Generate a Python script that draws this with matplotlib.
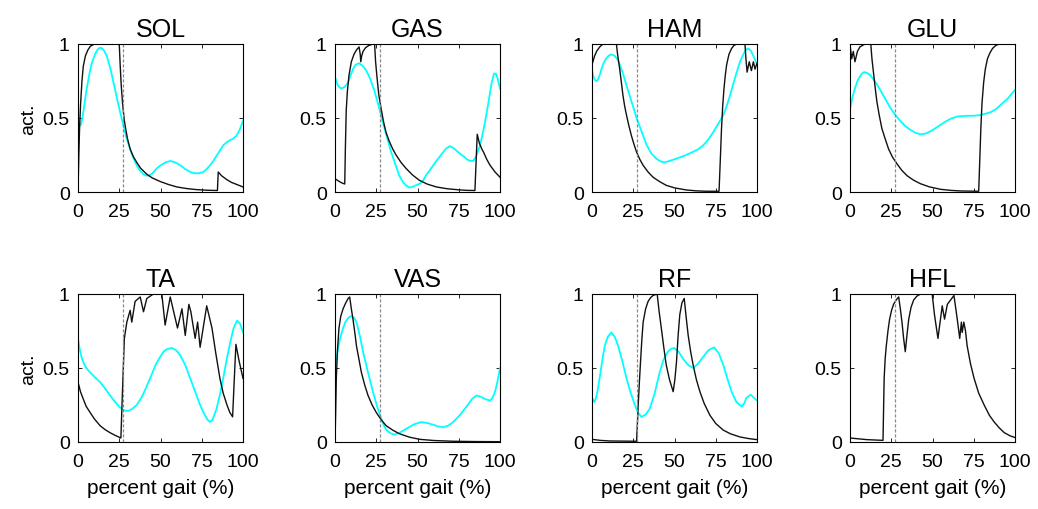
import matplotlib
matplotlib.use("Agg")
import matplotlib.pyplot as plt

plt.rcParams['font.family'] = ['Liberation Sans', 'DejaVu Sans']

# digitised curves: (x % gait, activation); black = simulated, cyan = reference EMG
sol_black_x = [0, 0.5, 1, 1.6, 2.4, 3.2, 4.5, 6, 7.5, 10, 25, 25.6, 26.2, 27, 28, 29, 30, 31.6, 33.5, 35.6, 38, 41.7, 45, 50, 55, 60, 66, 72, 78, 84.5, 85, 87, 90, 93, 96.4, 100]
sol_black_y = [0, 0.25, 0.45, 0.6, 0.75, 0.85, 0.92, 0.96, 0.985, 1, 1, 0.85, 0.72, 0.6, 0.49, 0.42, 0.36, 0.29, 0.24, 0.2, 0.16, 0.12, 0.095, 0.07, 0.05, 0.034, 0.023, 0.016, 0.012, 0.01, 0.135, 0.11, 0.085, 0.065, 0.05, 0.034]
sol_cyan_x = [0, 0.8, 1.6, 2.5, 3.5, 4.5, 5.3, 6.3, 7.3, 8.3, 9.3, 10.5, 11.5, 12.5, 14, 15.5, 17.4, 19.5, 21.5, 23.5, 25.5, 27.5, 29.5, 31.6, 33.5, 35.6, 37.5, 39.7, 41, 42.7, 45, 47.8, 50, 53, 56, 59, 62, 65, 68, 70.5, 73, 76, 78, 80, 82, 84, 86, 88, 90, 92, 94, 96, 98, 100]
sol_cyan_y = [0.5, 0.46, 0.45, 0.49, 0.56, 0.64, 0.70, 0.76, 0.82, 0.87, 0.9, 0.935, 0.955, 0.97, 0.975, 0.96, 0.92, 0.84, 0.74, 0.64, 0.54, 0.45, 0.36, 0.29, 0.23, 0.18, 0.145, 0.12, 0.112, 0.11, 0.125, 0.16, 0.18, 0.2, 0.21, 0.2, 0.18, 0.155, 0.135, 0.127, 0.126, 0.135, 0.155, 0.18, 0.21, 0.245, 0.28, 0.315, 0.335, 0.35, 0.36, 0.38, 0.42, 0.48]

gas_black_x = [0, 2, 4, 5.9, 6.3, 6.8, 7.5, 8.5, 9.9, 11.5, 13, 14.6, 15.3, 15.6, 16.2, 17, 18.5, 20.5, 23, 24, 24.6, 25.5, 26.5, 28, 29.5, 31, 33, 35, 37, 40, 43, 47, 51, 56, 61.5, 68, 75.7, 80, 84.8, 85.5, 86.2, 87.5, 89, 90, 92, 94, 97, 100]
gas_black_y = [0.09, 0.075, 0.062, 0.054, 0.3, 0.55, 0.68, 0.79, 0.88, 0.93, 0.96, 0.98, 0.93, 0.88, 0.92, 0.95, 0.975, 0.99, 1, 1, 0.88, 0.77, 0.66, 0.56, 0.47, 0.4, 0.34, 0.29, 0.25, 0.2, 0.16, 0.115, 0.08, 0.053, 0.034, 0.022, 0.014, 0.011, 0.01, 0.2, 0.39, 0.33, 0.29, 0.27, 0.22, 0.18, 0.135, 0.10]
gas_cyan_x = [0, 1, 1.8, 3, 3.8, 5, 5.8, 7, 7.9, 9.5, 10.9, 12.5, 14.6, 17, 19, 21.5, 24, 26.5, 29, 31.5, 34, 36.5, 39, 41, 43, 45, 47, 49, 51.4, 53.5, 55, 57, 59.5, 62.5, 65.6, 67.5, 69.6, 72, 75.7, 78, 80, 82, 83.8, 85.5, 87.9, 90, 92, 93.5, 95, 96.4, 97.5, 98.5, 100]
gas_cyan_y = [0.78, 0.74, 0.72, 0.705, 0.70, 0.705, 0.71, 0.725, 0.74, 0.79, 0.83, 0.86, 0.87, 0.85, 0.82, 0.76, 0.68, 0.58, 0.47, 0.37, 0.27, 0.19, 0.11, 0.07, 0.045, 0.03, 0.035, 0.045, 0.056, 0.08, 0.11, 0.14, 0.18, 0.225, 0.27, 0.295, 0.31, 0.295, 0.26, 0.24, 0.22, 0.21, 0.21, 0.24, 0.315, 0.42, 0.54, 0.64, 0.74, 0.80, 0.80, 0.77, 0.70]

ham_black_x = [0, 0.8, 1.6, 3, 4.7, 6, 7.7, 14.8, 15.5, 16.8, 17.8, 18.8, 19.8, 20.9, 22.3, 23.9, 25.5, 27, 29, 31, 34, 37, 41, 45, 50, 57, 63, 69.4, 77, 77.7, 78.5, 79.2, 80, 80.8, 81.6, 83, 84.6, 86, 87.7, 92.7, 93.3, 94, 95.3, 96.6, 97.8, 98.8, 100]
ham_black_y = [0.86, 0.89, 0.92, 0.955, 0.98, 0.995, 1, 1, 0.93, 0.83, 0.74, 0.65, 0.58, 0.52, 0.45, 0.38, 0.32, 0.27, 0.22, 0.18, 0.135, 0.10, 0.07, 0.045, 0.028, 0.014, 0.008, 0.005, 0.005, 0.2, 0.43, 0.58, 0.70, 0.79, 0.86, 0.93, 0.97, 0.99, 1, 1, 0.9, 0.81, 0.88, 0.82, 0.88, 0.83, 0.87]
ham_cyan_x = [0, 0.6, 1.2, 2, 2.6, 3.3, 4, 5, 5.7, 7, 8.5, 10, 11.7, 13.8, 15.8, 18.5, 20.9, 24, 27, 30, 33, 36, 39, 41.5, 44, 47, 51, 56, 61, 64.5, 67.4, 70.5, 73.5, 76.5, 79.6, 81.6, 83.6, 85.6, 87.7, 89.7, 91.7, 93.2, 94.7, 96.2, 97.8, 99, 100]
ham_cyan_y = [0.83, 0.79, 0.77, 0.755, 0.75, 0.755, 0.77, 0.80, 0.83, 0.87, 0.90, 0.92, 0.93, 0.92, 0.89, 0.81, 0.72, 0.61, 0.50, 0.41, 0.32, 0.26, 0.225, 0.207, 0.20, 0.21, 0.225, 0.245, 0.27, 0.29, 0.315, 0.355, 0.405, 0.46, 0.52, 0.58, 0.65, 0.73, 0.81, 0.88, 0.93, 0.96, 0.97, 0.955, 0.92, 0.89, 0.86]

glu_black_x = [0, 1, 2, 3, 4.5, 6, 9, 12.6, 13.3, 14.2, 15.2, 16.3, 17.7, 19.3, 21.3, 23.4, 25.8, 28.5, 31.5, 34.6, 38.5, 42.7, 48, 55, 61, 67, 78, 78.6, 79.3, 80, 81, 82, 83.3, 84.8, 86.4, 88.3, 90.4, 100]
glu_black_y = [1, 0.9, 0.95, 0.88, 0.95, 0.98, 1, 1, 0.9, 0.81, 0.71, 0.61, 0.52, 0.43, 0.36, 0.29, 0.235, 0.19, 0.145, 0.11, 0.08, 0.056, 0.035, 0.018, 0.011, 0.007, 0.005, 0.2, 0.43, 0.6, 0.74, 0.83, 0.90, 0.94, 0.97, 0.99, 1, 1]
glu_cyan_x = [0, 1.5, 3, 4.5, 6, 7.2, 8.5, 10.3, 12.2, 15, 18.3, 21.3, 24.4, 27.5, 30.5, 33.5, 36.6, 39.6, 42.7, 45.8, 48.8, 53, 57, 61, 65, 71, 75, 79.3, 82.5, 85.4, 88.5, 91.5, 95.5, 100]
glu_cyan_y = [0.56, 0.64, 0.70, 0.75, 0.78, 0.80, 0.81, 0.805, 0.79, 0.75, 0.69, 0.63, 0.57, 0.52, 0.48, 0.445, 0.42, 0.40, 0.39, 0.395, 0.41, 0.44, 0.47, 0.495, 0.51, 0.515, 0.515, 0.52, 0.53, 0.54, 0.56, 0.59, 0.63, 0.69]

ta_black_x = [0, 1.5, 3.2, 5, 7.3, 10, 13.4, 16.5, 19.4, 22.5, 26, 27, 28.1, 29.6, 31.6, 32.6, 34.6, 37.7, 39.7, 41.7, 45.7, 50.8, 52.8, 55.9, 60.3, 63, 65, 67.2, 68.4, 71, 72.5, 74, 78, 81.2, 83.5, 86, 88, 90.3, 92, 93.7, 94.7, 95.7, 97.4, 100]
ta_black_y = [0.405, 0.34, 0.29, 0.24, 0.20, 0.155, 0.11, 0.083, 0.063, 0.045, 0.027, 0.36, 0.70, 0.81, 0.89, 0.81, 0.95, 0.98, 0.88, 0.97, 1, 1, 0.79, 0.98, 0.77, 0.90, 0.72, 0.93, 0.88, 0.70, 0.81, 0.64, 0.92, 0.77, 0.6, 0.43, 0.33, 0.25, 0.2, 0.17, 0.42, 0.66, 0.56, 0.43]
ta_cyan_x = [0, 1, 2, 3.2, 5, 7.3, 10, 13.4, 16.5, 19.4, 22.5, 25, 27, 29, 31, 33, 35.6, 38.5, 41, 43.7, 47, 49.5, 51.8, 54, 57, 59.5, 62, 65, 68, 71, 74, 76.5, 78.5, 80, 81.5, 84, 86, 88, 90, 92.3, 94.3, 96.4, 98.2, 100]
ta_cyan_y = [0.70, 0.63, 0.58, 0.54, 0.50, 0.47, 0.44, 0.405, 0.36, 0.315, 0.27, 0.24, 0.22, 0.21, 0.212, 0.225, 0.25, 0.30, 0.36, 0.43, 0.52, 0.57, 0.61, 0.628, 0.635, 0.62, 0.585, 0.52, 0.43, 0.34, 0.25, 0.19, 0.15, 0.135, 0.15, 0.225, 0.32, 0.43, 0.55, 0.675, 0.77, 0.82, 0.80, 0.74]

vas_black_x = [0, 0.4, 0.8, 1.5, 2.4, 3.5, 4.9, 6.5, 8, 8.9, 9.9, 10.9, 12, 13, 14.5, 16, 18, 20, 22.5, 25, 28, 31, 35, 39, 45, 51.4, 60, 71.7, 85, 100]
vas_black_y = [0, 0.2, 0.43, 0.62, 0.77, 0.85, 0.90, 0.94, 0.97, 0.98, 0.9, 0.83, 0.74, 0.65, 0.56, 0.47, 0.385, 0.315, 0.25, 0.20, 0.15, 0.11, 0.08, 0.056, 0.033, 0.018, 0.01, 0.005, 0.003, 0.002]
vas_cyan_x = [0, 1, 1.8, 3.3, 4.9, 6.3, 7.5, 8.7, 9.9, 11.5, 13, 15, 17, 20, 23, 25.5, 28, 29.5, 31.2, 33.5, 36, 39.5, 43.3, 48, 52.4, 56, 59.5, 62.5, 65.6, 68.5, 71.7, 75.5, 79.8, 83, 85.8, 88.5, 91, 94, 95.5, 97, 98.5, 100]
vas_cyan_y = [0.50, 0.57, 0.63, 0.71, 0.77, 0.81, 0.83, 0.845, 0.85, 0.84, 0.81, 0.72, 0.61, 0.47, 0.34, 0.24, 0.16, 0.115, 0.08, 0.06, 0.05, 0.065, 0.09, 0.12, 0.135, 0.128, 0.117, 0.105, 0.10, 0.11, 0.135, 0.18, 0.24, 0.29, 0.315, 0.305, 0.29, 0.28, 0.3, 0.34, 0.41, 0.50]

rf_black_x = [0, 5, 10.7, 27, 27.5, 28, 28.7, 29.4, 30.2, 31, 32.5, 34, 35.5, 37, 39.5, 40.7, 42, 43.5, 45, 47, 49.2, 50.2, 51.2, 52.2, 53.2, 54.5, 55.9, 57, 58.3, 59.8, 61.3, 63.3, 65.4, 68, 71.5, 75, 79.6, 84, 89.7, 95, 100]
rf_black_y = [0.018, 0.011, 0.007, 0.005, 0.12, 0.25, 0.4, 0.54, 0.69, 0.81, 0.9, 0.95, 0.975, 0.99, 1, 0.88, 0.77, 0.64, 0.52, 0.42, 0.34, 0.42, 0.54, 0.72, 0.86, 0.94, 0.97, 0.85, 0.72, 0.61, 0.52, 0.42, 0.34, 0.26, 0.18, 0.125, 0.08, 0.055, 0.034, 0.023, 0.016]
rf_cyan_x = [0, 0.7, 1.4, 2.5, 3.6, 5, 6.7, 8, 9.5, 11.7, 13.8, 15.8, 18.3, 20.9, 23.5, 26, 28, 30, 32.5, 35, 38, 41, 43.5, 46, 48, 49.8, 52.5, 55.3, 58.3, 61.3, 64.3, 67.4, 70.5, 74, 76.8, 79.6, 82, 84.6, 87.5, 90.7, 92.2, 93.7, 96.2, 98, 100]
rf_cyan_y = [0.30, 0.28, 0.27, 0.3, 0.36, 0.46, 0.585, 0.66, 0.71, 0.74, 0.71, 0.65, 0.55, 0.43, 0.33, 0.25, 0.195, 0.17, 0.185, 0.225, 0.33, 0.47, 0.56, 0.61, 0.63, 0.635, 0.61, 0.56, 0.52, 0.50, 0.53, 0.575, 0.62, 0.64, 0.6, 0.52, 0.43, 0.34, 0.27, 0.24, 0.26, 0.30, 0.32, 0.3, 0.28]

hfl_black_x = [0, 10.2, 20, 20.4, 20.7, 21.3, 22, 23, 24, 25.2, 26.4, 28, 29.5, 30.5, 31.5, 32.5, 33.5, 34.5, 35.6, 37, 38.6, 40.5, 42.7, 49.8, 51.2, 53.3, 55.9, 57.3, 59, 63, 65, 66.5, 67.5, 68, 69, 70, 71, 73, 75.2, 78, 81.3, 84.5, 87.4, 90.5, 93.5, 97, 100]
hfl_black_y = [0.027, 0.016, 0.011, 0.25, 0.43, 0.56, 0.65, 0.75, 0.83, 0.89, 0.93, 0.96, 0.98, 0.9, 0.81, 0.7, 0.61, 0.72, 0.83, 0.91, 0.96, 0.985, 1, 1, 0.86, 0.70, 0.92, 0.83, 0.93, 0.99, 0.83, 0.70, 0.81, 0.74, 0.81, 0.75, 0.65, 0.53, 0.43, 0.33, 0.25, 0.18, 0.135, 0.095, 0.063, 0.042, 0.03]

muscles = ['SOL', 'GAS', 'HAM', 'GLU', 'TA', 'VAS', 'RF', 'HFL']
black_curves = [(sol_black_x, sol_black_y), (gas_black_x, gas_black_y), (ham_black_x, ham_black_y),
                (glu_black_x, glu_black_y), (ta_black_x, ta_black_y), (vas_black_x, vas_black_y),
                (rf_black_x, rf_black_y), (hfl_black_x, hfl_black_y)]
cyan_curves = [(sol_cyan_x, sol_cyan_y), (gas_cyan_x, gas_cyan_y), (ham_cyan_x, ham_cyan_y),
               (glu_cyan_x, glu_cyan_y), (ta_cyan_x, ta_cyan_y), (vas_cyan_x, vas_cyan_y),
               (rf_cyan_x, rf_cyan_y), None]
toe_off = 27.5
x_ticks = [0, 25, 50, 75, 100]
y_ticks = [0, 0.5, 1]
y_tick_labels = ['0', '0.5', '1']

fig = plt.figure(figsize=(10.38, 5.10), dpi=100)
lefts = [78, 335, 592, 850]
bottoms = [193, 443]

for i, name in enumerate(muscles):
    row, col = divmod(i, 4)
    ax = fig.add_axes([lefts[col] / 1038, 1 - bottoms[row] / 510, 165 / 1038, 148 / 510])
    if cyan_curves[i] is not None:
        ax.plot(cyan_curves[i][0], cyan_curves[i][1], color='#00ffff', lw=1.3)
    ax.plot(black_curves[i][0], black_curves[i][1], color='#111111', lw=1.0)
    # toe-off marker
    ax.axvline(toe_off, color='#8a8a8a', ls='--', lw=0.9, dashes=(2.5, 1.5))
    ax.set_xlim(0, 100)
    ax.set_ylim(0, 1)
    ax.set_xticks(x_ticks)
    ax.set_yticks(y_ticks)
    ax.set_yticklabels(y_tick_labels)
    ax.tick_params(direction='in', top=True, right=True, length=3, width=0.6, labelsize=14)
    ax.tick_params(axis='x', pad=8)
    ax.tick_params(axis='y', pad=6)
    for s in ax.spines.values():
        s.set_linewidth(0.8)
    ax.set_title(name, fontsize=18, pad=6)
    if col == 0:
        ax.set_ylabel('act.', fontsize=14)
    if row == 1:
        ax.set_xlabel('percent gait (%)', fontsize=15, labelpad=6)

fig.savefig('out.png', dpi=100)
